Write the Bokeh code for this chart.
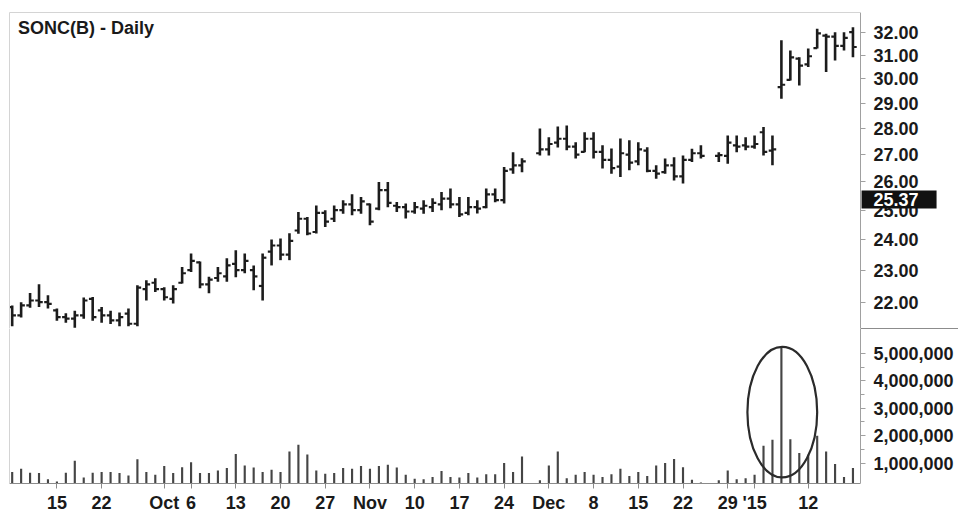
import numpy as np
import pandas as pd
from bokeh.plotting import figure
from bokeh.layouts import column
from bokeh.models import (FixedTicker, NumeralTickFormatter, Label, Range1d,
                          ColumnDataSource, LinearAxis, BoxAnnotation)
from bokeh.embed import file_html
from bokeh.resources import INLINE

# ---------------- data ----------------
# trading-day slots (the chart keeps Thanksgiving and Christmas as empty slots)
slot_dates = [d.strftime("%Y-%m-%d") for d in pd.bdate_range("2014-09-08", "2015-01-20")
              if d.strftime("%Y-%m-%d") not in ("2015-01-01", "2015-01-19")]

highs = [21.90, 22.00, 22.28, 22.55, 22.21, 21.81, 21.66, 21.74, 22.14, 22.16,
         21.85, 21.74, 21.69, 21.81, 22.52, 22.68, 22.74, 22.46, 22.52, 23.10,
         23.54, 23.28, 22.79, 23.10, 23.38, 23.64, 23.54, 23.15, 23.54, 24.00,
         24.03, 24.21, 24.93, 24.76, 25.16, 24.99, 25.16, 25.34, 25.55, 25.46,
         25.23, 25.99, 25.99, 25.28, 25.23, 25.28, 25.34, 25.41, 25.63, 25.76,
         25.46, 25.46, 25.34, 25.76, 25.76, 26.54, 27.09, 26.86, None, 28.00,
         27.66, 28.07, 28.11, 27.47, 27.85, 27.85, 27.35, 27.23, 27.61, 27.54,
         27.47, 27.28, 26.60, 26.85, 26.90, 26.97, 27.22, 27.35, None, 27.09,
         27.73, 27.73, 27.66, 27.73, 28.05, 27.73, 31.64, 31.20, 30.91, 31.28,
         32.15, 31.93, 32.00, 32.00, 32.22]
lows = [21.28, 21.54, 21.83, 21.85, 21.81, 21.44, 21.38, 21.23, 21.50, 21.44,
        21.38, 21.34, 21.28, 21.28, 21.28, 22.05, 22.31, 22.05, 21.96, 22.58,
        22.94, 22.43, 22.27, 22.63, 22.63, 22.77, 22.90, 22.37, 22.05, 23.15,
        23.32, 23.32, 24.19, 24.14, 24.20, 24.42, 24.59, 24.87, 24.82, 24.87,
        24.48, 24.99, 25.10, 24.93, 24.71, 24.87, 24.87, 24.93, 24.99, 25.06,
        24.76, 24.82, 24.88, 25.06, 25.27, 25.23, 26.29, 26.35, None, 26.97,
        26.97, 27.27, 27.16, 26.85, 27.09, 26.85, 26.48, 26.29, 26.17, 26.42,
        26.60, 26.35, 26.11, 26.29, 26.05, 25.94, 26.72, 26.85, None, 26.72,
        26.66, 27.09, 27.16, 27.22, 26.97, 26.60, 29.18, 29.93, 29.72, 30.49,
        31.28, 30.28, 30.77, 31.20, 30.91]
opens = [21.85, 21.60, 21.90, 22.05, 22.00, 21.75, 21.55, 21.50, 21.60, 22.10,
         21.75, 21.60, 21.45, 21.65, 21.35, 22.40, 22.60, 22.40, 22.10, 22.60,
         23.00, 23.25, 22.55, 22.75, 22.80, 23.20, 23.00, 23.00, 22.50, 23.60,
         23.80, 23.50, 24.30, 24.70, 24.25, 24.90, 24.70, 25.00, 25.20, 25.00,
         25.20, 25.05, 25.70, 25.15, 25.10, 24.95, 25.05, 25.10, 25.20, 25.40,
         25.20, 24.90, 25.10, 25.10, 25.55, 25.35, 26.45, 26.60, None, 27.05,
         27.20, 27.45, 27.60, 27.30, 27.10, 27.60, 27.10, 26.80, 26.55, 27.00,
         26.75, 27.15, 26.40, 26.35, 26.60, 26.20, 26.80, 27.05, None, 26.95,
         26.95, 27.35, 27.35, 27.30, 27.85, 27.15, 29.65, 29.95, 30.85, 30.60,
         31.30, 31.85, 31.80, 31.40, 32.00]
closes = [21.60, 21.90, 22.05, 22.00, 21.95, 21.55, 21.50, 21.60, 22.05, 21.55,
          21.60, 21.45, 21.55, 21.35, 22.45, 22.55, 22.40, 22.15, 22.40, 22.90,
          23.30, 22.55, 22.70, 22.90, 23.15, 23.00, 23.30, 22.80, 23.40, 23.80,
          23.50, 23.95, 24.70, 24.20, 24.90, 24.60, 25.00, 25.20, 25.00, 25.30,
          24.60, 25.70, 25.25, 25.10, 24.95, 25.10, 25.15, 25.25, 25.40, 25.20,
          24.85, 25.10, 25.05, 25.55, 25.35, 26.40, 26.60, 26.75, None, 27.20,
          27.40, 27.60, 27.30, 27.00, 27.60, 27.10, 26.80, 26.50, 27.05, 26.70,
          27.20, 26.40, 26.30, 26.60, 26.20, 26.80, 27.05, 26.95, None, 26.98,
          27.45, 27.30, 27.30, 27.40, 27.10, 27.20, 29.75, 30.90, 30.55, 30.95,
          31.95, 31.80, 31.40, 31.75, 31.35]
volume = [670000, 790000, 650000, 640000, 410000, 330000, 650000, 1080000, 470000, 650000,
          670000, 670000, 640000, 550000, 1140000, 670000, 570000, 890000, 640000, 850000,
          1030000, 640000, 640000, 730000, 820000, 1330000, 910000, 840000, 670000, 760000,
          670000, 1420000, 1670000, 1310000, 730000, 610000, 640000, 820000, 790000, 890000,
          790000, 890000, 940000, 840000, 570000, 430000, 410000, 490000, 710000, 490000,
          470000, 640000, 470000, 590000, 590000, 1000000, 670000, 1240000, None, 370000,
          910000, 1420000, 450000, 570000, 670000, 570000, 490000, 590000, 790000, 530000,
          670000, 530000, 910000, 1000000, 1150000, 850000, 390000, 290000, None, 370000,
          730000, 410000, 450000, 570000, 1630000, 1850000, 5240000, 1870000, 1370000, 1300000,
          2000000, 1420000, 970000, 490000, 820000]

price_ticks = [22, 23, 24, 25, 26, 27, 28, 29, 30, 31, 32]
volume_ticks = [1000000, 2000000, 3000000, 4000000, 5000000]
volume_minor_ticks = [1500000, 2500000, 3500000, 4500000]
tick_dates = ["2014-09-15", "2014-09-22", "2014-10-01", "2014-10-06", "2014-10-13",
              "2014-10-20", "2014-10-27", "2014-11-03", "2014-11-10", "2014-11-17",
              "2014-11-24", "2014-12-01", "2014-12-08", "2014-12-15", "2014-12-22",
              "2014-12-29", "2015-01-02", "2015-01-12"]
tick_labels = ["15", "22", "Oct", "6", "13", "20", "27", "Nov", "10", "17",
               "24", "Dec", "8", "15", "22", "29", "'15", "12"]
title_text = "SONC(B) - Daily"
last_price_label = 25.37

# ---------------- build ----------------
FONT = "Liberation Sans"
INK = "#1a1a1a"
n = len(slot_dates)
x = np.arange(n, dtype=float)
f = lambda a: np.array(a, dtype=float)
src = ColumnDataSource(dict(x=x, xl=x - 0.42, xr=x + 0.42,
                            high=f(highs), low=f(lows), open=f(opens), close=f(closes),
                            vol=f(volume)))
tick_idx = [slot_dates.index(d) for d in tick_dates]

X_START, X_END = -0.3, 105.8      # frame spans the whole width
AXIS_AT = n - 0.15                # where the right-hand scales sit
SLOT_PX = 949.0 / (X_END - X_START)
xr = Range1d(X_START, X_END)
P_LO, P_HI = 21.21, 32.887
PRICE_PX_PER_LN = 316.0 / np.log(P_HI / P_LO)


def style_scale_axis(ax, size="18px"):
    ax.fixed_location = AXIS_AT
    ax.axis_line_color = "#a0a0a0"
    ax.major_tick_line_color = "#a0a0a0"
    ax.major_tick_out = 5
    ax.major_tick_in = 0
    ax.major_label_standoff = 8
    ax.major_label_text_font = FONT
    ax.major_label_text_font_style = "bold"
    ax.major_label_text_font_size = size
    ax.major_label_text_color = INK


def border_axis(fig, side, color="#d4d4d4", bounds="auto"):
    ax = LinearAxis(ticker=FixedTicker(ticks=[]), axis_line_color=color,
                    major_tick_line_color=None, minor_tick_line_color=None,
                    major_tick_out=0, minor_tick_out=0, major_label_standoff=0,
                    major_label_text_font_size="0px", bounds=bounds)
    fig.add_layout(ax, side)


# ---- price panel ----
p = figure(width=958, height=328, x_range=xr, y_range=Range1d(P_LO, P_HI),
           y_axis_type="log", y_axis_location="right", x_axis_location=None,
           toolbar_location=None, output_backend="svg",
           min_border_left=9, min_border_right=0, min_border_top=12, min_border_bottom=0)
p.outline_line_color = None
p.grid.visible = False

p.segment(x0="x", y0="low", x1="x", y1="high", source=src, line_width=2.6, line_color="#1c1c1c")
p.segment(x0="xl", y0="open", x1="x", y1="open", source=src, line_width=2.2, line_color="#1c1c1c")
p.segment(x0="x", y0="close", x1="xr", y1="close", source=src, line_width=2.2, line_color="#1c1c1c")

ya = p.yaxis[0]
ya.ticker = FixedTicker(ticks=price_ticks)
ya.formatter = NumeralTickFormatter(format="0.00")
ya.minor_tick_line_color = None
style_scale_axis(ya)

border_axis(p, "left")
border_axis(p, "above", bounds=(X_START, AXIS_AT))

p.add_layout(Label(x=8.5, y=311, x_units="screen", y_units="screen", text=title_text,
                   text_font=FONT, text_font_style="bold", text_font_size="18px",
                   text_color=INK, text_baseline="top", text_align="left"))

# last-price flag on the price scale
half_h = np.exp(9.0 / PRICE_PX_PER_LN)
p.add_layout(BoxAnnotation(left=AXIS_AT + 1.0 / SLOT_PX, right=AXIS_AT + 76.0 / SLOT_PX,
                           bottom=last_price_label / half_h, top=last_price_label * half_h,
                           fill_color="#111111", fill_alpha=1.0, line_color=None,
                           level="annotation"))
p.add_layout(Label(x=AXIS_AT, y=last_price_label, x_offset=13, text=f"{last_price_label:.2f}",
                   text_font=FONT, text_font_style="bold", text_font_size="18px",
                   text_color="white", text_baseline="middle", text_align="left"))

# ---- volume panel ----
v = figure(width=958, height=187, x_range=xr, y_range=Range1d(254000, 5910000),
           y_axis_location="right", toolbar_location=None, output_backend="svg",
           min_border_left=9, min_border_right=0, min_border_top=0, min_border_bottom=30)
v.outline_line_color = None
v.grid.visible = False
v.vbar(x="x", top="vol", bottom=0, width=0.24, source=src, fill_color="#454545",
       line_color=None)

vals = f(volume)
vmax_i = int(np.nanargmax(vals))
vmax = np.nanmax(vals)
v.ellipse(x=vmax_i + 0.1, y=vmax * 0.545, width=7.8, height=vmax * 0.91,
          fill_color=None, line_color="#2b2b2b", line_width=2.2)

vy = v.yaxis[0]
vy.ticker = FixedTicker(ticks=volume_ticks, minor_ticks=volume_minor_ticks)
vy.formatter = NumeralTickFormatter(format="0,0")
vy.minor_tick_line_color = "#a0a0a0"
vy.minor_tick_out = 4
vy.minor_tick_in = 0
style_scale_axis(vy)

vx = v.xaxis[0]
vx.bounds = (X_START, AXIS_AT)
vx.ticker = FixedTicker(ticks=tick_idx)
vx.major_label_overrides = {i: lab for i, lab in zip(tick_idx, tick_labels)}
vx.axis_line_color = "#8a8a8a"
vx.major_tick_line_color = "#8a8a8a"
vx.major_tick_out = 5
vx.major_tick_in = 0
vx.minor_tick_line_color = None
vx.major_label_standoff = 4
vx.major_label_text_font = FONT
vx.major_label_text_font_style = "bold"
vx.major_label_text_font_size = "18px"
vx.major_label_text_color = INK

border_axis(v, "left")
border_axis(v, "above", color="#8c8c8c", bounds=(AXIS_AT, X_END))

layout = column(p, v, spacing=0)
open("out.html", "w").write(file_html(layout, INLINE))
